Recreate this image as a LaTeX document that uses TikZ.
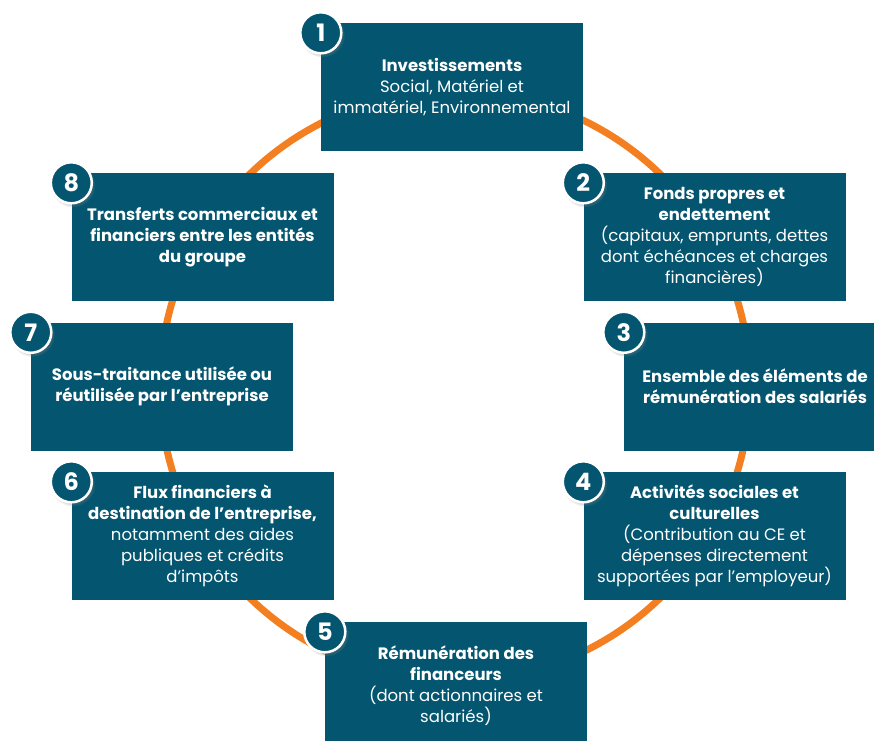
\documentclass[tikz,border=0pt]{standalone}
\usepackage{fontspec}
\setmainfont{Poppins}
\usetikzlibrary{shadows}
\definecolor{bleucanard}{HTML}{04556F}
\definecolor{orangecycle}{HTML}{F47F20}
\tikzset{
  etape/.style={fill=bleucanard,text=white,minimum width=262pt,minimum height=128pt,inner sep=0pt,align=center,font=\fontsize{16.5}{21}\selectfont},
  numero/.style={circle,fill=bleucanard,draw=white,line width=2.5pt,minimum size=41pt,inner sep=0pt,text=white,font=\fontsize{24}{24}\selectfont\bfseries,circular drop shadow={shadow xshift=1.5pt,shadow yshift=-2pt,opacity=0.35}},
  cycle/.style={draw=orangecycle,line width=7pt}
}
\begin{document}
\begin{tikzpicture}[x=1pt,y=-1pt]
\useasboundingbox (0,0) rectangle (874,740);
\coordinate (centre) at (455,386);
\draw[cycle] (centre) circle[radius=295pt];

\node[etape] (inv) at (452,87) {\textbf{Investissements}\\Social, Matériel et\\immatériel, Environnemental};
\node[etape] (fonds) at (714.5,237) {\textbf{Fonds propres et}\\\textbf{endettement}\\(capitaux, emprunts, dettes\\dont échéances et charges\\financières)};
\node[etape] (remsal) at (755,386.5) {\textbf{Ensemble des éléments de}\\\textbf{rémunération des salariés}};
\node[etape] (activ) at (714.5,536) {\textbf{Activités sociales et}\\\textbf{culturelles}\\(Contribution au CE et\\dépenses directement\\supportées par l’employeur)};
\node[etape] (remfin) at (456,686) {\textbf{Rémunération des}\\\textbf{financeurs}\\(dont actionnaires et\\salariés)};
\node[etape] (flux) at (202.5,536) {\textbf{Flux financiers à}\\\textbf{destination de l’entreprise,}\\notamment des aides\\publiques et crédits\\d’impôts};
\node[etape] (sst) at (162,386.5) {\textbf{Sous-traitance utilisée ou}\\\textbf{réutilisée par l’entreprise}};
\node[etape] (transf) at (202.5,237) {\textbf{Transferts commerciaux et}\\\textbf{financiers entre les entités}\\\textbf{du groupe}};

\node[numero] (n1) at ([yshift=-10pt]inv.north west) {1};
\node[numero] (n2) at ([yshift=-10pt]fonds.north west) {2};
\node[numero] (n3) at ([yshift=-10pt]remsal.north west) {3};
\node[numero] (n4) at ([yshift=-10pt]activ.north west) {4};
\node[numero] (n5) at ([yshift=-10pt]remfin.north west) {5};
\node[numero] (n6) at ([yshift=-10pt]flux.north west) {6};
\node[numero] (n7) at ([yshift=-10pt]sst.north west) {7};
\node[numero] (n8) at ([yshift=-10pt]transf.north west) {8};
\end{tikzpicture}
\end{document}
